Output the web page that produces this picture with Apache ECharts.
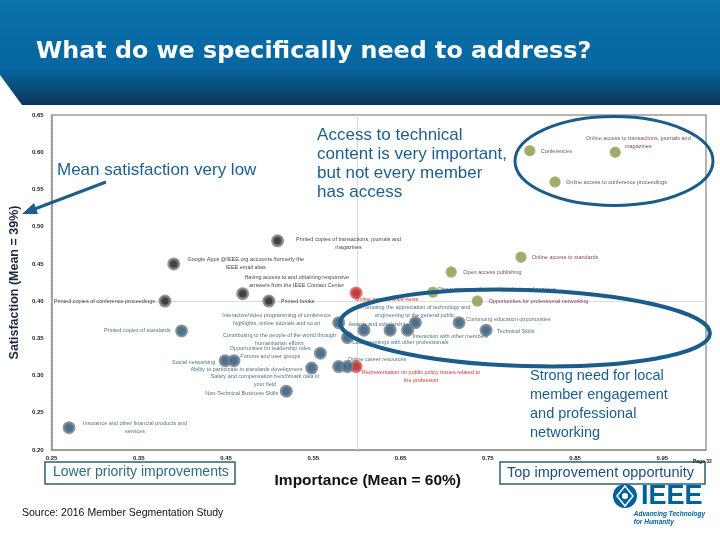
<!DOCTYPE html>
<html>
<head>
<meta charset="utf-8">
<script src="https://cdn.jsdelivr.net/npm/echarts@6/dist/echarts.min.js"></script>
<style>html,body{margin:0;padding:0;background:#fff}#c{width:720px;height:540px}</style>
</head>
<body>
<div id="c"></div>
<script>
// ---- data ----
const darkNames = [
  'Printed copies of transactions, journals and\nmagazines',
  'Google Apps @IEEE.org accounts /formerly the\nIEEE email alias',
  'Having access to and obtaining responsive\nanswers from the IEEE Contact Center',
  'Printed copies of conference proceedings',
  'Printed books'
];
const darkX = [0.509, 0.390, 0.469, 0.380, 0.499];
const darkY = [0.481, 0.450, 0.410, 0.400, 0.400];

const redNames = [
  'Online magazines/e-news',
  'Representation on public policy issues related to\nthe profession'
];
const redX = [0.599, 0.599];
const redY = [0.411, 0.312];

const oliveNames = [
  'Conferences',
  'Online access to transactions, journals and\nmagazines',
  'Online access to conference proceedings',
  'Online access to standards',
  'Open access publishing',
  'Discounts on professional products and services',
  'Opportunities for professional networking'
];
const oliveX = [0.798, 0.896, 0.827, 0.788, 0.708, 0.687, 0.738];
const oliveY = [0.602, 0.600, 0.560, 0.459, 0.439, 0.412, 0.400];

const blueNames = [
  'Printed copies of standards',
  'Insurance and other financial products and\nservices',
  'Social networking',
  'Salary and compensation benchmark data in\nyour field',
  'Ability to participate in standards development',
  'Non-Technical Business Skills',
  'Opportunities for leadership roles\nForums and user groups',
  'Interactive/video programming of conference\nhighlights, online tutorials and so on',
  'Contributing to the people of the world through\nhumanitarian efforts',
  'Online career resources',
  '',
  'Promoting the appreciation of technology and\nengineering to the general public',
  'Local meetings with other professionals',
  'Interaction with other members',
  'Awards and scholarships',
  'Continuing education opportunities',
  'Technical Skills'
];
const blueX = [0.399, 0.270, 0.449, 0.459, 0.548, 0.519, 0.558, 0.579, 0.589, 0.579, 0.589, 0.608, 0.638, 0.658, 0.667, 0.717, 0.748];
const blueY = [0.360, 0.230, 0.320, 0.320, 0.310, 0.279, 0.330, 0.371, 0.351, 0.312, 0.312, 0.361, 0.361, 0.361, 0.371, 0.371, 0.361];

const meanSatisfaction = 0.395;
const meanImportance = 0.60;

const xMin = 0.25, xMax = 1.0, yMin = 0.20, yMax = 0.65;

// label placement (align, dx, dy) relative to point centre, by group index
const darkLbl  = [['center',71,2.5],['center',72,0],['center',54,-12],['right',-10,0],['left',12,0]];
const redLbl   = [['left',-1,7],['center',65,10]];
const oliveLbl = [['left',11,1],['center',23,-9.5],['left',11,0],['left',11,0],['left',12,0],['left',5,-3],['left',11,0]];
const blueLbl  = [['right',-11,0],['center',66,0],['right',-10,2],['center',31,19.5],['right',-9,1],['right',-8,2],
                  ['center',-50,-0.5],['center',-62,-3],['center',-68,1.5],['left',9,-7],['left',0,0],['center',51,-19],
                  ['left',-38,12],['left',5,6],['right',-6,2],['left',7,-3],['left',11,1]];

function mk(names, xs, ys, lbl, color, border, bw, labelColor){
  return {
    type:'scatter', symbolSize:10,
    itemStyle:{color:color, borderColor:border, borderWidth:bw},
    label:{show:true, position:'inside', formatter:p=>p.name, fontSize:5.5, lineHeight:8,
           fontFamily:'Liberation Sans', color:labelColor},
    data: names.map((n,i)=>({name:n, value:[xs[i], ys[i]],
          label:{align:lbl[i][0], offset:[lbl[i][1], lbl[i][2]]}}))
  };
}

const chart = echarts.init(document.getElementById('c'), null, {renderer:'canvas'});
const blue = '#1d5e8c';
const series = [
  mk(darkNames, darkX, darkY, darkLbl, '#111', '#7d7d7d', 3, '#111'),
  mk(redNames, redX, redY, redLbl, '#b01010', '#d35b5b', 3, '#c00000'),
  mk(oliveNames, oliveX, oliveY, oliveLbl, '#869741', '#a5ae78', 1.5, '#5a1434'),
  mk(blueNames, blueX, blueY, blueLbl, '#1f4f78', '#6f7f8b', 3, '#1e5060')
];
series[0].markLine = {
  silent:true, symbol:'none', label:{show:false}, z:1,
  lineStyle:{color:'#dcdcdc', width:1, type:'solid'},
  data:[{yAxis:meanSatisfaction},{xAxis:meanImportance}]
};

chart.setOption({
  animation:false,
  backgroundColor:'#fff',
  grid:{left:45, right:14, top:115, bottom:90, show:true, borderColor:'#9a9a9a', borderWidth:1.5, backgroundColor:'transparent'},
  xAxis:{type:'value', min:xMin, max:xMax, interval:0.05,
    name:'Importance (Mean = 60%)', nameLocation:'middle', nameGap:23,
    nameTextStyle:{fontSize:15.5, fontWeight:'bold', color:'#111', fontFamily:'Liberation Sans', padding:[0,22,0,0]},
    axisLine:{show:true, lineStyle:{color:'#9a9a9a', type:'dotted', width:2}},
    axisTick:{show:false}, splitLine:{show:false},
    axisLabel:{fontSize:6, fontWeight:'bold', color:'#222', margin:5, showMaxLabel:false,
      formatter:v=>{const k=Math.round(v*100); return (k%10===5)? v.toFixed(2):'';}}
  },
  yAxis:{type:'value', min:yMin, max:yMax, interval:0.05,
    name:'Satisfaction (Mean = 39%)', nameLocation:'middle', nameGap:29,
    nameTextStyle:{fontSize:12.5, fontWeight:'bold', color:'#1b2a3c', fontFamily:'Liberation Sans', padding:[0,0,0,0]},
    axisLine:{show:true, lineStyle:{color:'#9a9a9a', type:'dotted', width:2}},
    axisTick:{show:false}, splitLine:{show:false},
    axisLabel:{fontSize:6, fontWeight:'bold', color:'#222', margin:8, formatter:v=>v.toFixed(2)}
  },
  series: series,
  graphic:[
    {type:'polygon', z:0, shape:{points:[[0,0],[720,0],[720,105],[22,105],[0,75]]},
      style:{fill:new echarts.graphic.LinearGradient(0,0,0,1,[{offset:0,color:'#0a71aa'},{offset:0.65,color:'#0866a0'},{offset:1,color:'#0a3758'}])}},
    {type:'text', z:10, left:36, top:40, style:{text:'What do we specifically need to address?', fill:'#fff', font:'bold 23.8px "DejaVu Sans"'}},
    {type:'text', z:10, left:57, top:162, style:{text:'Mean satisfaction very low', fill:blue, font:'17px "Liberation Sans"'}},
    {type:'line', z:10, shape:{x1:106,y1:182,x2:32,y2:210}, style:{stroke:blue, lineWidth:3}},
    {type:'polygon', z:10, shape:{points:[[22,214],[34,203],[38,214]]}, style:{fill:blue}},
    {type:'text', z:10, right:213, top:126, style:{text:'Access to technical\ncontent is very important,\nbut not every member\nhas access', fill:blue, font:'17px "Liberation Sans"', align:'right', lineHeight:19}},
    {type:'text', z:10, left:530, top:366, style:{text:'Strong need for local\nmember engagement\nand professional\nnetworking', fill:blue, font:'14.5px "Liberation Sans"', align:'center', lineHeight:19}},
    {type:'ellipse', z:100, shape:{cx:614, cy:161, rx:99, ry:44.5}, style:{fill:null, stroke:'#1a5c8a', lineWidth:3}},
    {type:'ellipse', z:100, x:525, y:328, rotation:-0.03, shape:{cx:0, cy:0, rx:185, ry:38}, style:{fill:null, stroke:'#1a5c8a', lineWidth:4}},
    {type:'rect', z:10, shape:{x:45, y:462, width:190, height:22}, style:{fill:'#fff', stroke:'#2d6070', lineWidth:1.5}},
    {type:'text', z:11, left:53, top:465, style:{text:'Lower priority improvements', fill:'#2b6c7d', font:'14px "Liberation Sans"'}},
    {type:'rect', z:10, shape:{x:500, y:462, width:205, height:22}, style:{fill:'#fff', stroke:'#2d6070', lineWidth:1.5}},
    {type:'text', z:11, left:507, top:465, style:{text:'Top improvement opportunity', fill:'#1f4e79', font:'14.5px "Liberation Sans"'}},
    {type:'text', z:10, left:22, top:508, style:{text:'Source: 2016 Member Segmentation Study', fill:'#111', font:'10.5px "Liberation Sans"'}},
    {type:'text', z:10, left:693, top:459, style:{text:'Page 32', fill:'#222', font:'bold 5px "Liberation Sans"'}},
    {type:'circle', z:10, shape:{cx:625, cy:496, r:12}, style:{fill:'#00629b'}},
    {type:'polygon', z:11, shape:{points:[[625,486],[633,496],[625,506],[617,496]]}, style:{fill:'none', stroke:'#fff', lineWidth:1.5}},
    {type:'circle', z:12, shape:{cx:625, cy:496, r:3}, style:{fill:'#fff'}},
    {type:'text', z:10, left:641, top:483, style:{text:'IEEE', fill:'#00629b', font:'bold 27px "Liberation Sans"'}},
    {type:'text', z:10, right:15, top:510, style:{text:'Advancing Technology\nfor Humanity', fill:'#00629b', font:'italic bold 6.5px "Liberation Sans"', align:'right', lineHeight:8}}
  ]
});
</script>
</body>
</html>
